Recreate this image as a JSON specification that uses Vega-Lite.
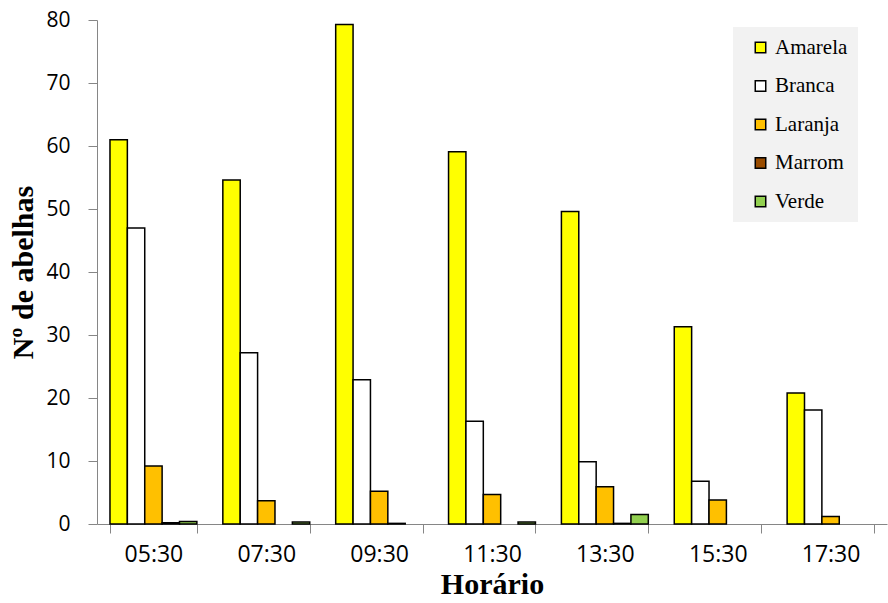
{
  "$schema": "https://vega.github.io/schema/vega-lite/v6.json",
  "width": 790,
  "height": 504,
  "autosize": {"type": "none"},
  "padding": {"left": 97, "top": 20, "right": 1, "bottom": 79},
  "background": "white",
  "config": {"view": {"stroke": null}},
  "data": {"values": [
    {"h": "05:30", "c": "Amarela", "v": 61.0},
    {"h": "05:30", "c": "Branca", "v": 47.0},
    {"h": "05:30", "c": "Laranja", "v": 9.2},
    {"h": "05:30", "c": "Marrom", "v": 0.2},
    {"h": "05:30", "c": "Verde", "v": 0.4},
    {"h": "07:30", "c": "Amarela", "v": 54.6},
    {"h": "07:30", "c": "Branca", "v": 27.2},
    {"h": "07:30", "c": "Laranja", "v": 3.7},
    {"h": "07:30", "c": "Verde", "v": 0.3},
    {"h": "09:30", "c": "Amarela", "v": 79.3},
    {"h": "09:30", "c": "Branca", "v": 22.9},
    {"h": "09:30", "c": "Laranja", "v": 5.2},
    {"h": "09:30", "c": "Marrom", "v": 0.1},
    {"h": "11:30", "c": "Amarela", "v": 59.1},
    {"h": "11:30", "c": "Branca", "v": 16.3},
    {"h": "11:30", "c": "Laranja", "v": 4.7},
    {"h": "11:30", "c": "Verde", "v": 0.3},
    {"h": "13:30", "c": "Amarela", "v": 49.6},
    {"h": "13:30", "c": "Branca", "v": 9.9},
    {"h": "13:30", "c": "Laranja", "v": 5.9},
    {"h": "13:30", "c": "Marrom", "v": 0.1},
    {"h": "13:30", "c": "Verde", "v": 1.5},
    {"h": "15:30", "c": "Amarela", "v": 31.3},
    {"h": "15:30", "c": "Branca", "v": 6.8},
    {"h": "15:30", "c": "Laranja", "v": 3.8},
    {"h": "17:30", "c": "Amarela", "v": 20.8},
    {"h": "17:30", "c": "Branca", "v": 18.1},
    {"h": "17:30", "c": "Laranja", "v": 1.2}
  ]},
  "mark": {"type": "bar", "stroke": "black", "strokeWidth": 1.5},
  "encoding": {
    "x": {
      "field": "h", "type": "nominal", "sort": null,
      "scale": {"paddingInner": 0.23, "paddingOuter": 0.115},
      "axis": {
        "title": "Horário", "labelAngle": 0, "bandPosition": 0,
        "tickBand": "extent",
        "domainColor": "#868686", "tickColor": "#868686", "tickSize": 9,
        "labelFont": "Open Sans", "labelFontSize": 23, "labelColor": "black", "labelPadding": 10,
        "titleFont": "Liberation Serif", "titleFontSize": 30, "titleFontWeight": "bold", "titleColor": "black", "titlePadding": 3
      }
    },
    "xOffset": {"field": "c", "type": "nominal", "scale": {"domain": ["Amarela","Branca","Laranja","Marrom","Verde"], "paddingInner": 0, "paddingOuter": 0}},
    "y": {
      "field": "v", "type": "quantitative",
      "scale": {"domain": [0, 80], "nice": false},
      "axis": {
        "title": "Nº de abelhas", "grid": false, "values": [0,10,20,30,40,50,60,70,80],
        "domainColor": "#868686", "tickColor": "#868686", "tickSize": 9,
        "labelFont": "Open Sans", "labelFontSize": 21, "labelColor": "black", "labelPadding": 18,
        "titleFont": "Liberation Serif", "titleFontSize": 30, "titleFontWeight": "bold", "titleColor": "black", "titlePadding": 7
      }
    },
    "fill": {
      "field": "c", "type": "nominal",
      "scale": {"domain": ["Amarela","Branca","Laranja","Marrom","Verde"], "range": ["#ffff00","#ffffff","#ffc000","#994c00","#92d050"]},
      "legend": {
        "title": null, "orient": "none", "legendX": 636, "legendY": 7,
        "fillColor": "#f2f2f2", "padding": 10, "rowPadding": 16.5,
        "symbolType": "square", "symbolSize": 110, "symbolStrokeColor": "black", "symbolStrokeWidth": 1.5, "symbolOffset": 7,
        "labelFont": "Liberation Serif", "labelFontSize": 21, "labelColor": "black", "labelOffset": 4
      }
    }
  }
}
